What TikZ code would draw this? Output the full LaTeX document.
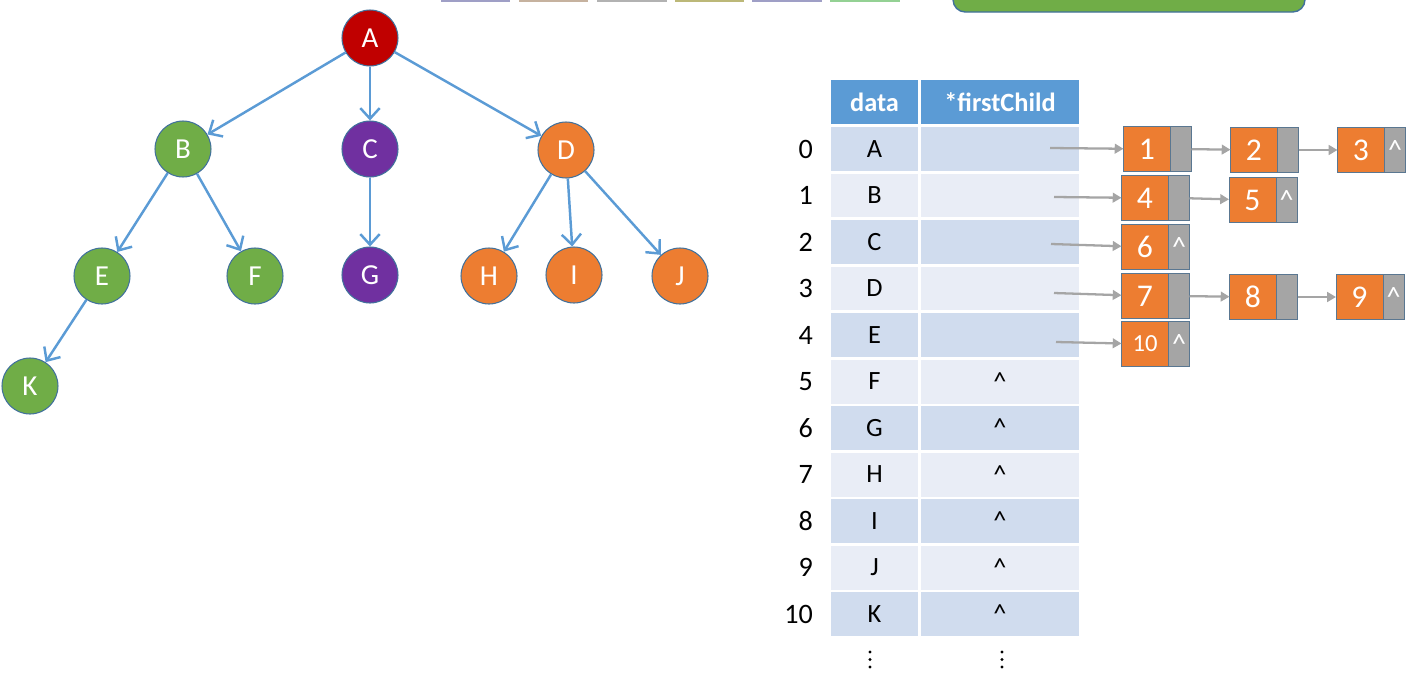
\documentclass[tikz,border=0pt]{standalone}
\usepackage{fontspec}
\setmainfont{Carlito}
\usetikzlibrary{arrows.meta,positioning}

\definecolor{treeblue}{HTML}{5B9BD5}
\definecolor{rootred}{HTML}{C00000}
\definecolor{leafgreen}{HTML}{70AD47}
\definecolor{nodepurple}{HTML}{7030A0}
\definecolor{nodeorange}{HTML}{ED7D31}
\definecolor{edgeline}{HTML}{41719C}
\definecolor{ptrgray}{HTML}{A5A5A5}
\definecolor{rowdark}{HTML}{D0DCEE}
\definecolor{rowlight}{HTML}{E9EDF6}

\begin{document}
\begin{tikzpicture}[
    x=0.02cm, y=-0.02cm,
    vertex/.style={circle, draw=edgeline, line width=0.6pt, minimum size=1.12cm, inner sep=0pt, text=white, font=\fontsize{16.5}{19}\selectfont},
    treearrow/.style={-{Straight Barb[length=6pt,width=11pt]}, treeblue, line width=1.4pt},
    headcell/.style={rectangle, fill=treeblue, text=white, minimum height=0.88cm, inner sep=0pt, font=\fontsize{15}{18}\selectfont\bfseries},
    cell/.style={rectangle, minimum height=0.88cm, inner sep=0pt, font=\fontsize{15}{18}\selectfont},
    idx/.style={anchor=east, font=\fontsize{16}{19}\selectfont},
    databox/.style={rectangle, draw=edgeline!60!gray, fill=nodeorange, text=white, minimum width=0.94cm, minimum height=0.9cm, inner sep=0pt, outer sep=0pt, font=\fontsize{18}{21}\selectfont},
    nextbox/.style={rectangle, draw=edgeline!60!gray, fill=ptrgray, text=white, minimum width=0.42cm, minimum height=0.9cm, inner sep=0pt, outer sep=0pt, font=\fontsize{16}{19}\selectfont},
    ptrarrow/.style={-{Triangle[length=5pt,width=5.5pt]}, ptrgray, line width=1.3pt},
  ]
  \useasboundingbox (0,0) rectangle (1411,683);

  % cut-off shapes at the top edge
  \fill[blue!25!gray!60] (441,-20) rectangle (510,2);
  \fill[brown!50!gray!60] (519,-20) rectangle (588,2);
  \fill[gray!60] (597,-20) rectangle (667,2);
  \fill[olive!60!gray!60] (675,-20) rectangle (744,2);
  \fill[blue!25!gray!60] (752,-20) rectangle (822,2);
  \fill[green!40!gray!60] (830,-20) rectangle (900,2);
  \draw[edgeline, fill=leafgreen, line width=0.8pt, rounded corners=7pt] (953,-30) rectangle (1305,12);

  % Tree
  \node[vertex, fill=rootred] (A) at (370,38) {A};
  \node[vertex, fill=leafgreen] (B) at (183,149) {B};
  \node[vertex, fill=nodepurple] (C) at (370,149) {C};
  \node[vertex, fill=nodeorange] (D) at (566,150) {D};
  \node[vertex, fill=leafgreen] (E) at (102,276) {E};
  \node[vertex, fill=leafgreen] (F) at (255,276) {F};
  \node[vertex, fill=nodepurple] (G) at (370,275) {G};
  \node[vertex, fill=nodeorange] (H) at (489,276) {H};
  \node[vertex, fill=nodeorange] (I) at (574,275) {I};
  \node[vertex, fill=nodeorange] (J) at (680,276) {J};
  \node[vertex, fill=leafgreen] (K) at (30,386) {K};

  \draw[treearrow] (A) -- (B);
  \draw[treearrow] (A) -- (C);
  \draw[treearrow] (A) -- (D);
  \draw[treearrow] (B) -- (E);
  \draw[treearrow] (B) -- (F);
  \draw[treearrow] (C) -- (G);
  \draw[treearrow] (D) -- (H);
  \draw[treearrow] (D) -- (I);
  \draw[treearrow] (D) -- (J);
  \draw[treearrow] (E) -- (K);

  % Table header
  \node[headcell, minimum width=1.74cm] (hdata) at (874.5,102) {data};
  \node[headcell, minimum width=3.16cm] (hchild) at (1000,102) {*firstChild};

  % Table rows
  \node[idx] (i0) at (819,149) {0};
  \node[cell, fill=rowdark, minimum width=1.74cm] (d0) at (874.5,149) {A};
  \node[cell, fill=rowdark, minimum width=3.16cm] (c0) at (1000,149) {};
  \node[idx] (i1) at (819,195.5) {1};
  \node[cell, fill=rowlight, minimum width=1.74cm] (d1) at (874.5,195.5) {B};
  \node[cell, fill=rowlight, minimum width=3.16cm] (c1) at (1000,195.5) {};
  \node[idx] (i2) at (819,242) {2};
  \node[cell, fill=rowdark, minimum width=1.74cm] (d2) at (874.5,242) {C};
  \node[cell, fill=rowdark, minimum width=3.16cm] (c2) at (1000,242) {};
  \node[idx] (i3) at (819,288.5) {3};
  \node[cell, fill=rowlight, minimum width=1.74cm] (d3) at (874.5,288.5) {D};
  \node[cell, fill=rowlight, minimum width=3.16cm] (c3) at (1000,288.5) {};
  \node[idx] (i4) at (819,335) {4};
  \node[cell, fill=rowdark, minimum width=1.74cm] (d4) at (874.5,335) {E};
  \node[cell, fill=rowdark, minimum width=3.16cm] (c4) at (1000,335) {};
  \node[idx] (i5) at (819,381.5) {5};
  \node[cell, fill=rowlight, minimum width=1.74cm] (d5) at (874.5,381.5) {F};
  \node[cell, fill=rowlight, minimum width=3.16cm] (c5) at (1000,381.5) {\textasciicircum};
  \node[idx] (i6) at (819,428) {6};
  \node[cell, fill=rowdark, minimum width=1.74cm] (d6) at (874.5,428) {G};
  \node[cell, fill=rowdark, minimum width=3.16cm] (c6) at (1000,428) {\textasciicircum};
  \node[idx] (i7) at (819,474.5) {7};
  \node[cell, fill=rowlight, minimum width=1.74cm] (d7) at (874.5,474.5) {H};
  \node[cell, fill=rowlight, minimum width=3.16cm] (c7) at (1000,474.5) {\textasciicircum};
  \node[idx] (i8) at (819,521) {8};
  \node[cell, fill=rowdark, minimum width=1.74cm] (d8) at (874.5,521) {I};
  \node[cell, fill=rowdark, minimum width=3.16cm] (c8) at (1000,521) {\textasciicircum};
  \node[idx] (i9) at (819,567.5) {9};
  \node[cell, fill=rowlight, minimum width=1.74cm] (d9) at (874.5,567.5) {J};
  \node[cell, fill=rowlight, minimum width=3.16cm] (c9) at (1000,567.5) {\textasciicircum};
  \node[idx] (i10) at (819,614) {10};
  \node[cell, fill=rowdark, minimum width=1.74cm] (d10) at (874.5,614) {K};
  \node[cell, fill=rowdark, minimum width=3.16cm] (c10) at (1000,614) {\textasciicircum};

  % vertical ellipsis below the table
  \fill (870,652) circle (1.6) (870,659.5) circle (1.6) (870,667) circle (1.6);
  \fill (1002,652) circle (1.6) (1002,659.5) circle (1.6) (1002,667) circle (1.6);

  % Child lists
  \node[databox] (n1) at (1147,149) {1};
  \node[nextbox, right=0pt of n1] (n1p) {};
  \node[databox] (n2) at (1254,150) {2};
  \node[nextbox, right=0pt of n2] (n2p) {};
  \node[databox] (n3) at (1361,150) {3};
  \node[nextbox, right=0pt of n3] (n3p) {\textasciicircum};

  \node[databox] (n4) at (1145,198) {4};
  \node[nextbox, right=0pt of n4] (n4p) {};
  \node[databox] (n5) at (1252.5,200) {5};
  \node[nextbox, right=0pt of n5] (n5p) {\textasciicircum};

  \node[databox] (n6) at (1145,247) {6};
  \node[nextbox, right=0pt of n6] (n6p) {\textasciicircum};

  \node[databox] (n7) at (1145,296) {7};
  \node[nextbox, right=0pt of n7] (n7p) {};
  \node[databox] (n8) at (1253,297) {8};
  \node[nextbox, right=0pt of n8] (n8p) {};
  \node[databox] (n9) at (1359.5,297) {9};
  \node[nextbox, right=0pt of n9] (n9p) {\textasciicircum};

  \node[databox, font=\fontsize{14}{16}\selectfont] (n10) at (1145,344) {10};
  \node[nextbox, right=0pt of n10] (n10p) {\textasciicircum};

  % Pointers
  \coordinate (p0) at (1050,148);
  \coordinate (p1) at (1054,197);
  \coordinate (p2) at (1051,244);
  \coordinate (p3) at (1054,293);
  \coordinate (p4) at (1056,342);
  \draw[ptrarrow] (p0) -- (n1);
  \draw[ptrarrow] (p1) -- (n4);
  \draw[ptrarrow] (p2) -- (n6);
  \draw[ptrarrow] (p3) -- (n7);
  \draw[ptrarrow] (p4) -- (n10);
  \draw[ptrarrow] (n1p) -- (n2);
  \draw[ptrarrow] (n2p) -- (n3);
  \draw[ptrarrow] (n4p) -- (n5);
  \draw[ptrarrow] (n7p) -- (n8);
  \draw[ptrarrow] (n8p) -- (n9);
\end{tikzpicture}
\end{document}
